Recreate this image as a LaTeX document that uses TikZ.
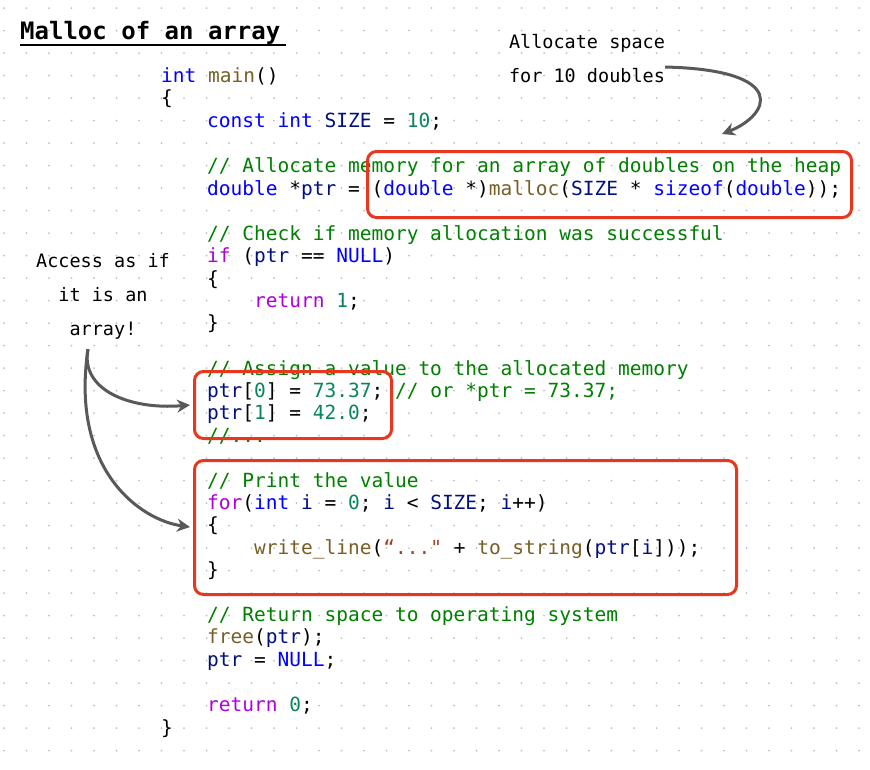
\documentclass[tikz,border=0pt]{standalone}
\usepackage{fontspec}
\setmonofont{DejaVu Sans Mono}
\newfontfamily\hand{DejaVu Sans Mono}
\usetikzlibrary{arrows.meta}
\definecolor{kw}{HTML}{0000FF}
\definecolor{ct}{HTML}{AF00DB}
\definecolor{fn}{HTML}{795E26}
\definecolor{nm}{HTML}{098658}
\definecolor{cm}{HTML}{008000}
\definecolor{id}{HTML}{001080}
\definecolor{hl}{HTML}{E8371E}
\newcommand\K[1]{\textcolor{kw}{#1}}
\newcommand\C[1]{\textcolor{ct}{#1}}
\newcommand\F[1]{\textcolor{fn}{#1}}
\newcommand\N[1]{\textcolor{nm}{#1}}
\newcommand\M[1]{\textcolor{cm}{#1}}
\newcommand\I[1]{\textcolor{id}{#1}}
\tikzset{
 code/.style={anchor=base west,inner sep=0pt,font=\ttfamily\fontsize{19.5}{20}\selectfont,text=black},
 note/.style={align=center,inner sep=0pt,font=\hand\fontsize{18.5}{34}\selectfont},
 redbox/.style={draw=hl,line width=3pt,rounded corners=9pt},
 garrow/.style={draw=black!65,line width=3pt,-{Stealth[length=13pt,width=13pt]}}
}
\begin{document}
\begin{tikzpicture}[x=1pt,y=-1pt]
\useasboundingbox (0,0) rectangle (870,769);
\fill[white] (0,0) rectangle (870,769);
\foreach \i in {0,...,39} \foreach \j in {0,...,34}
  \fill[black!25] (\i*22.5+4,\j*22.5+8) circle (1pt);
\node[anchor=base west,inner sep=0pt,font=\hand\bfseries\fontsize{24}{26}\selectfont] (title) at (20,39) {Malloc of an array};
\draw[line width=1.5pt] (20,45) -- (286,45);
\node[code] (l1) at (161,82) {\K{int} \F{main}()};
\node[code] (l2) at (161,104) {\{};
\node[code] (l3) at (207,127) {\K{const} \K{int} \I{SIZE} = \N{10};};
\node[code] (l4) at (207,172) {\M{// Allocate memory for an array of doubles on the heap}};
\node[code] (l5) at (207,195) {\K{double} *\I{ptr} = (\K{double} *)\F{malloc}(\I{SIZE} * \K{sizeof}(\K{double}));};
\node[code] (l6) at (207,240) {\M{// Check if memory allocation was successful}};
\node[code] (l7) at (207,262) {\C{if} (\I{ptr} == \K{NULL})};
\node[code] (l8) at (207,285) {\{};
\node[code] (l9) at (254,307) {\C{return} \N{1};};
\node[code] (l10) at (207,329) {\}};
\node[code] (l11) at (207,375) {\M{// Assign a value to the allocated memory}};
\node[code] (l12) at (207,397) {\I{ptr}[\N{0}] = \N{73.37}; \M{// or *ptr = 73.37;}};
\node[code] (l13) at (207,419) {\I{ptr}[\N{1}] = \N{42.0};};
\node[code] (l14) at (207,442) {\M{//...}};
\node[code] (l15) at (207,487) {\M{// Print the value}};
\node[code] (l16) at (207,509) {\C{for}(\K{int} \I{i} = \N{0}; \I{i} < \I{SIZE}; \I{i}++)};
\node[code] (l17) at (207,531) {\{};
\node[code] (l18) at (254,554) {\F{write\_line}(\textcolor{fn!70!red}{“..."} + \F{to\_string}(\I{ptr}[\I{i}]));};
\node[code] (l19) at (207,576) {\}};
\node[code] (l20) at (207,621) {\M{// Return space to operating system}};
\node[code] (l21) at (207,643) {\F{free}(\I{ptr});};
\node[code] (l22) at (207,666) {\I{ptr} = \K{NULL};};
\node[code] (l23) at (207,711) {\C{return} \N{0};};
\node[code] (l24) at (161,734) {\}};
\node[redbox,minimum width=484pt,minimum height=66pt,anchor=north west] (b1) at (366,150) {};
\node[redbox,minimum width=197pt,minimum height=67pt,anchor=north west] (b2) at (193,370) {};
\node[redbox,minimum width=542pt,minimum height=134pt,anchor=north west] (b3) at (193,459) {};
\node[note] (n1) at (587,59) {Allocate space\\for 10 doubles};
\node[note] (n2) at (103,296) {Access as if\\it is an\\array!};
\coordinate (a1) at (722,134);
\coordinate (a2) at (190,405);
\coordinate (a3) at (190,527);
\draw[garrow] (n1.east) ++(0,8) .. controls (790,70) and (770,115) .. (a1);
\draw[garrow] (n2.south) ++(-15,10) .. controls (80,390) and (130,410) .. (a2);
\draw[garrow] (n2.south) ++(-15,10) .. controls (70,470) and (140,520) .. (a3);
\end{tikzpicture}
\end{document}
